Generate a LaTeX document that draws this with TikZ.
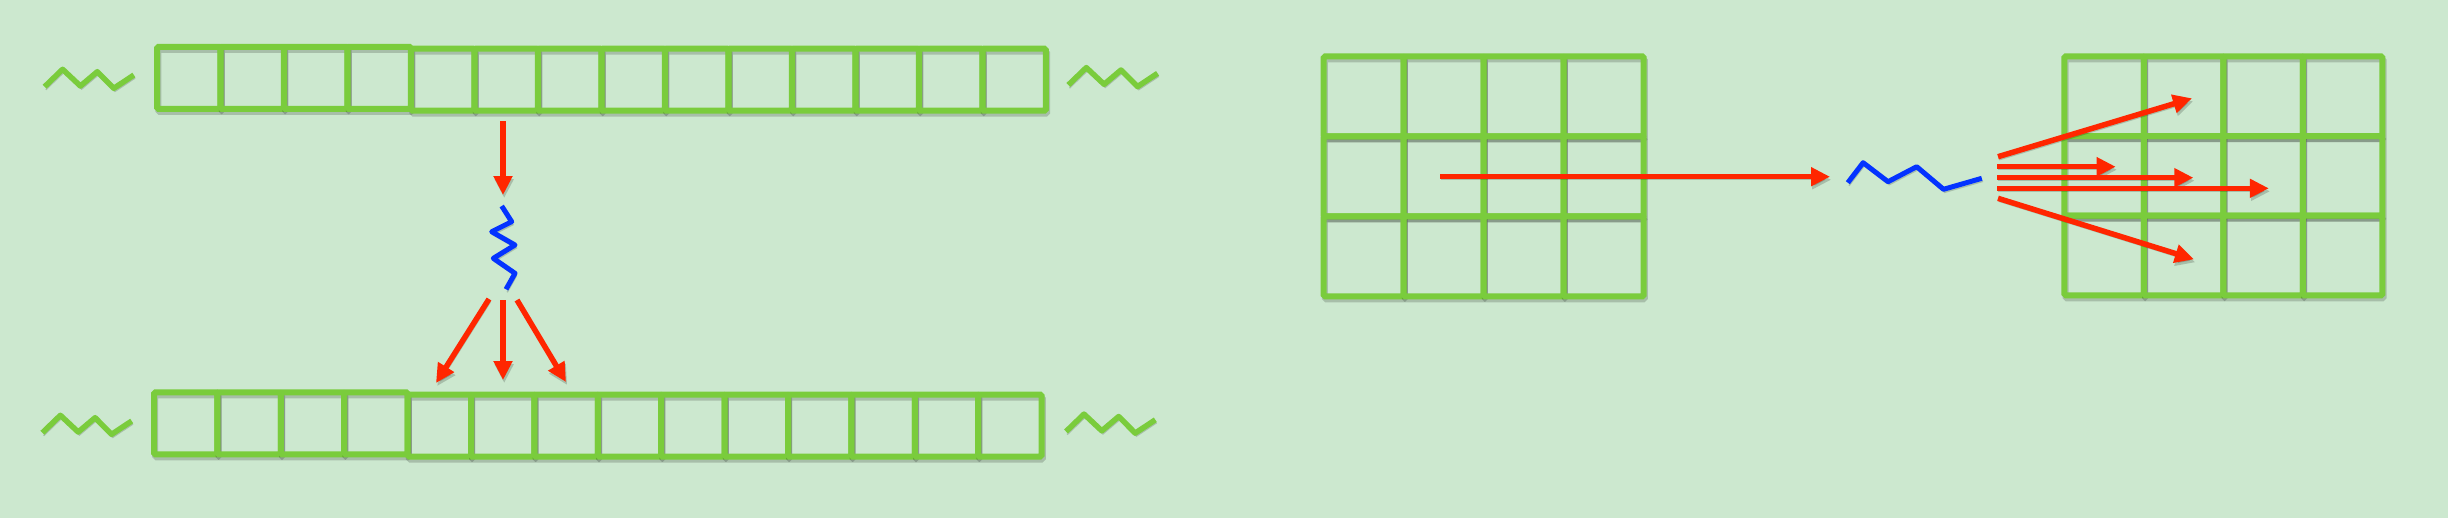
\documentclass[tikz,border=0pt]{standalone}
\usetikzlibrary{arrows.meta}
\definecolor{bg}{HTML}{CCE8CF}
\definecolor{lgreen}{HTML}{7ACC3C}
\definecolor{kred}{HTML}{FF2600}
\definecolor{kblue}{HTML}{0433FF}
\begin{document}
\begin{tikzpicture}[x=0.1mm,y=-0.1mm,
  shadowed/.style={preaction={draw=black,opacity=0.18,transform canvas={shift={(0.12mm,-0.3mm)}}}},
  cell/.style={draw=lgreen, line width=0.6mm, rounded corners=0.15mm, minimum width=6.34mm, minimum height=6.2mm, inner sep=0pt, outer sep=0pt, shadowed},
  gcell/.style={cell, minimum width=8mm, minimum height=8mm},
  redarrow/.style={draw=kred, line width=0.55mm, -{Triangle[length=1.9mm,width=1.8mm]}, shadowed},
  blueline/.style={draw=kblue, line width=0.5mm, line join=round, shadowed},
  greenline/.style={draw=lgreen, line width=0.55mm, line join=round, shadowed},
  squig/.pic={\draw[greenline] (0,0) -- (18,-17.4) -- (35.8,-0.7) -- (52.7,-15) -- (69.2,1.6) -- (89.3,-11.7);}
]
\useasboundingbox (0,0) rectangle (2448,518);
\fill[bg] (0,0) rectangle (2448,518);

% left: two 1-D chains
\foreach \i in {1,...,14}{
  \node[cell] (t\i) at ({157+63.5*(\i-0.5)},{\i>4 ? 79.7 : 77.8}) {};
  \node[cell] (b\i) at ({154+63.4*(\i-0.5)},{\i>4 ? 425.5 : 423.3}) {};
}
\pic at (44.6,86.7) {squig};
\pic at (1068.3,85) {squig};
\pic at (42.4,432.7) {squig};
\pic at (1066,431.5) {squig};

\coordinate (d0s) at (503,121);  \coordinate (d0e) at (503,195);
\draw[redarrow] (d0s) -- (d0e);
\draw[blueline] (501.7,206) -- (511.7,221.7) -- (491.7,231.7) -- (515,245) -- (493.3,258.3) -- (515,273.3) -- (506,289.3);
\coordinate (dLs) at (489,299); \coordinate (dLe) at (436,383);
\coordinate (dMs) at (503,300); \coordinate (dMe) at (503,380);
\coordinate (dRs) at (517,300); \coordinate (dRe) at (566,382);
\draw[redarrow] (dLs) -- (dLe);
\draw[redarrow] (dMs) -- (dMe);
\draw[redarrow] (dRs) -- (dRe);

% right: two 2-D grids
\foreach \r in {1,2,3}{
  \foreach \c in {1,...,4}{
    \node[gcell] (g\r\c) at ({1323.7+80*(\c-0.5)},{56.3+80*(\r-0.5)}) {};
    \node[gcell, minimum width=7.95mm, minimum height=7.97mm] (h\r\c) at ({2064.4+79.5*(\c-0.5)},{56.3+79.7*(\r-0.5)}) {};
  }
}
\coordinate (ins) at (1440,176.7); \coordinate (ine) at (1830,176.7);
\draw[redarrow] (ins) -- (ine);
\draw[blueline] (1847.8,182.7) -- (1863.1,162.7) -- (1888,181.7) -- (1916.7,166.7) -- (1943.5,189.3) -- (1981.8,178.3);
\coordinate (f1s) at (1998,156.7); \coordinate (f1e) at (2192,98.3);
\coordinate (f2s) at (1997,166.7); \coordinate (f2e) at (2115.7,166.7);
\coordinate (f3s) at (1997,177.7); \coordinate (f3e) at (2193.4,177.7);
\coordinate (f4s) at (1997,188.3); \coordinate (f4e) at (2268.8,188.3);
\coordinate (f5s) at (1998,198.3); \coordinate (f5e) at (2194,259.3);
\foreach \k in {1,...,5}{\draw[redarrow] (f\k s) -- (f\k e);}
\end{tikzpicture}
\end{document}
